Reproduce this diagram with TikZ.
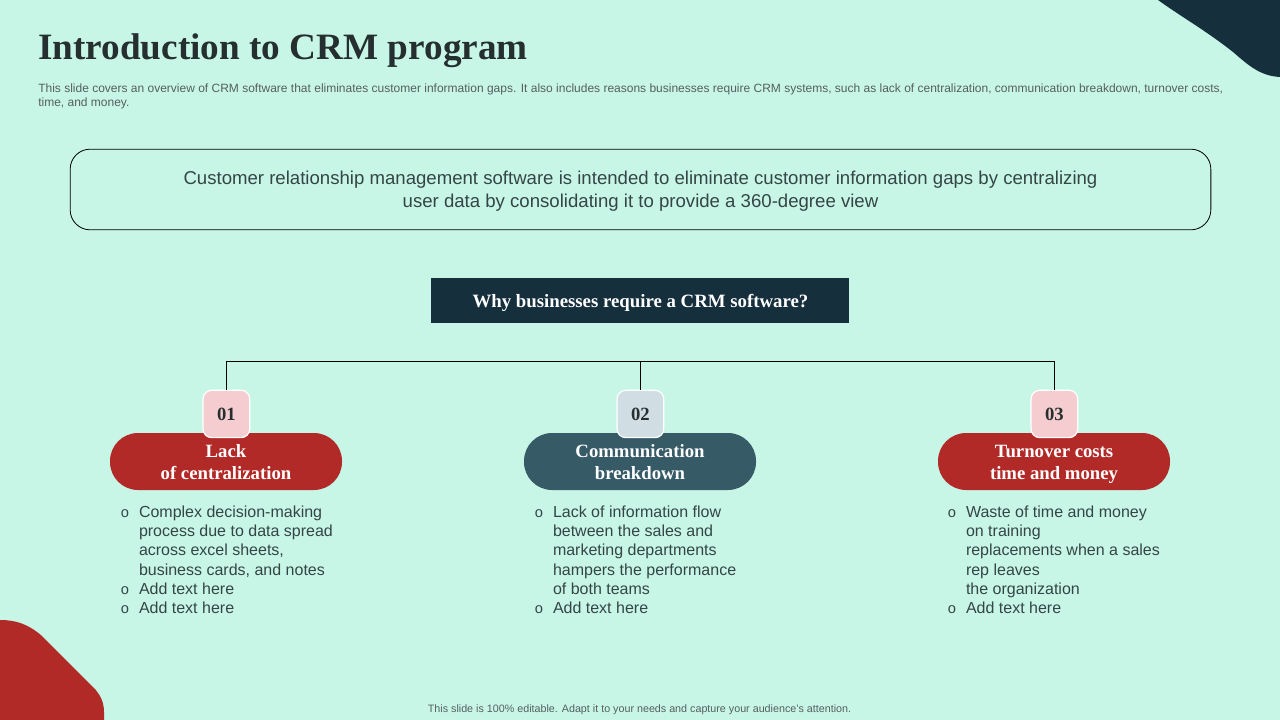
\documentclass[tikz,border=0pt]{standalone}
\usepackage{fontspec}
\usetikzlibrary{positioning}
\setmainfont{Liberation Sans}
\newfontfamily\headfont{Liberation Serif}[Scale=1.0]
\definecolor{bgMint}{HTML}{C7F6E7}
\definecolor{navyDark}{HTML}{162F3D}
\definecolor{redDark}{HTML}{B22A27}
\definecolor{tealDark}{HTML}{365A66}
\definecolor{chipPink}{HTML}{F5CCD0}
\definecolor{chipBlue}{HTML}{D0DEE3}
\definecolor{titleDark}{HTML}{262F2F}
\definecolor{textDark}{HTML}{354545}
\definecolor{textGray}{HTML}{565F5E}
\newcommand{\bul}{\llap{\fontsize{11pt}{10pt}\selectfont o\hspace{7.5pt}}}
\newcommand{\pilltop}{\rule{0pt}{13.5pt}}
\newcommand{\pillbot}{\rule[-3pt]{0pt}{3pt}}

\begin{document}
\begin{tikzpicture}[x=0.75pt, y=-0.75pt,
  pill/.style = {rounded corners=21pt, minimum width=174pt, minimum height=42.75pt, inner sep=0pt,
                 align=center, text=white, font=\headfont\bfseries\fontsize{14.05pt}{16.5pt}\selectfont},
  chip/.style = {draw=white, line width=0.9pt, rounded corners=6.5pt, minimum width=35pt, minimum height=35.5pt, inner sep=0pt,
                 text=titleDark, text height=9.8pt, text depth=0pt, font=\headfont\bfseries\fontsize{14pt}{16pt}\selectfont},
  bullets/.style = {align=left, anchor=north west, inner sep=0pt, text=textDark,
                    font=\fontsize{12pt}{14.42pt}\selectfont},
  small note/.style = {text=textGray, inner sep=0pt, font=\fontsize{9pt}{10.8pt}\selectfont},
  ]
  \useasboundingbox (0,0) rectangle (1280,720);
  \fill[bgMint] (0,0) rectangle (1280,720);
  \fill[navyDark] (1158,0) .. controls (1180,16) and (1205,30) .. (1233,52)
     .. controls (1248,65) and (1260,76) .. (1280,77) -- (1280,0) -- cycle;
  \fill[redDark] (0,620) .. controls (16,620) and (28,624) .. (42,636)
     -- (93,687) .. controls (101,695) and (104,703) .. (104,712) -- (104,720) -- (0,720) -- cycle;

  \node[anchor=base west, inner sep=0pt, text=titleDark, font=\headfont\bfseries\fontsize{27.9pt}{30pt}\selectfont] (nTitle) at (38,59.5) {Introduction to CRM program};
  \node[small note, anchor=north west, align=left] (nIntro) at (38,83.5) {This slide covers an overview of CRM software that eliminates customer information gaps. It also includes reasons businesses require CRM systems, such as lack of centralization, communication breakdown, turnover costs,\\time, and money.};

  \node[draw=black, line width=0.6pt, rounded corners=15pt, minimum width=855.5pt, minimum height=60.5pt, inner sep=0pt,
        align=center, text=textDark, font=\fontsize{13.95pt}{17.3pt}\selectfont] (nBox) at (640.5,189.5)
        {\rule{0pt}{13pt}Customer relationship management software is intended to eliminate customer information gaps by centralizing\\user data by consolidating it to provide a 360-degree view};

  \node[pill, fill=redDark] (nPill1) at (226,461.5) {\pilltop Lack\\of centralization\pillbot};
  \node[pill, fill=tealDark] (nPill2) at (640,461.5) {\pilltop Communication\\breakdown\pillbot};
  \node[pill, fill=redDark] (nPill3) at (1054,461.5) {\pilltop Turnover costs\\time and money\pillbot};

  \node[fill=navyDark, minimum width=313.5pt, minimum height=33.75pt, inner sep=0pt, text=white,
        text height=10.5pt, text depth=0pt,
        font=\headfont\bfseries\fontsize{14.1pt}{16pt}\selectfont] (nHead) at (640.4,300.5) {Why businesses require a CRM software?}
    [sibling distance=310.5pt, level distance=85.1pt,
     edge from parent/.style={draw=black, line width=0.7pt},
     edge from parent path={(\tikzparentnode.south) ++(0,-28.5pt) -| (\tikzchildnode.north)}]
    child { node[chip, fill=chipPink] (nNum1) {01} }
    child { node[chip, fill=chipBlue] (nNum2) {02} }
    child { node[chip, fill=chipPink] (nNum3) {03} };

  \node[bullets, below right=11.5pt and 21.75pt of nPill1.south west] (nList1)
    {\bul Complex decision-making\\process due to data spread\\across excel sheets,\\business cards, and notes\\\bul Add text here\\\bul Add text here};
  \node[bullets, below right=11.5pt and 21.75pt of nPill2.south west] (nList2)
    {\bul Lack of information flow\\between the sales and\\marketing departments\\hampers the performance\\of both teams\\\bul Add text here};
  \node[bullets, below right=11.5pt and 21pt of nPill3.south west] (nList3)
    {\bul Waste of time and money\\on training\\replacements when a sales\\rep leaves\\the organization\\\bul Add text here};

  \node[small note, font=\fontsize{8.05pt}{10pt}\selectfont] (nFoot) at (639.5,709.5) {This slide is 100\% editable. Adapt it to your needs and capture your audience's attention.};
\end{tikzpicture}
\end{document}
